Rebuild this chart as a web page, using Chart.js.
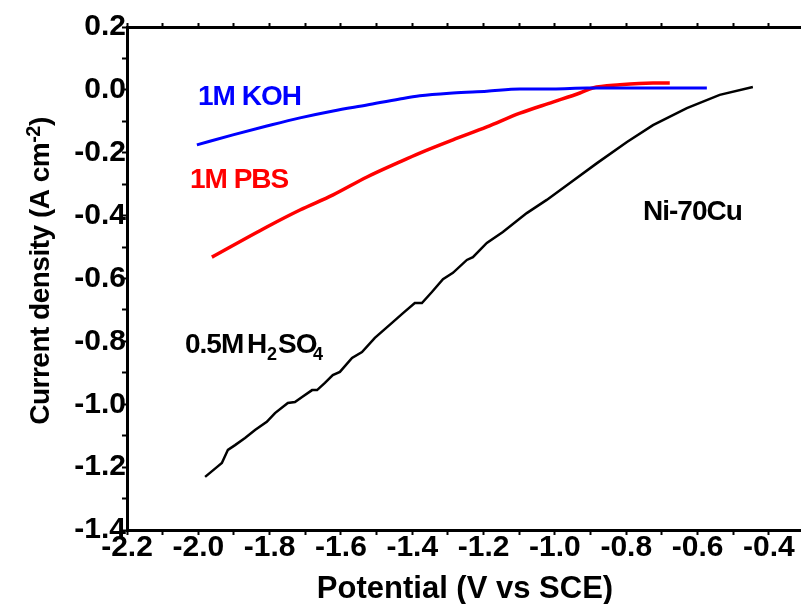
<!DOCTYPE html>
<html><head><meta charset="utf-8">
<script src="https://cdn.jsdelivr.net/npm/chart.js@4.4.1/dist/chart.umd.min.js"></script>
<style>html,body{margin:0;padding:0;background:#fff}canvas{display:block}</style>
</head><body>
<canvas id="c" width="801" height="604"></canvas>
<script>
// ---- data (Potential V vs SCE, Current density A cm^-2)
const kohPotential = [-2.004,-1.903,-1.808,-1.715,-1.622,-1.527,-1.435,-1.379,-1.286,-1.191,-1.098,-1.006,-0.910,-0.818,-0.574];
const kohCurrent   = [-0.175,-0.143,-0.115,-0.089,-0.067,-0.048,-0.029,-0.019,-0.010,-0.004,0.003,0.003,0.006,0.006,0.006];

const pbsPotential = [-1.962,-1.808,-1.715,-1.622,-1.527,-1.435,-1.379,-1.286,-1.191,-1.098,-1.006,-0.930,-0.894,-0.818,-0.725,-0.678];
const pbsCurrent   = [-0.532,-0.436,-0.382,-0.334,-0.277,-0.229,-0.201,-0.159,-0.118,-0.074,-0.039,-0.010,0.006,0.016,0.022,0.022];

const h2so4Potential = [-1.981,-1.948,-1.934,-1.917,-1.897,-1.869,-1.841,-1.808,-1.785,-1.749,-1.729,-1.709,-1.681,-1.667,-1.645,-1.623,-1.603,-1.569,-1.541,-1.505,-1.457,-1.426,-1.393,-1.373,-1.345,-1.314,-1.286,-1.247,-1.230,-1.191,-1.146,-1.079,-1.023,-0.958,-0.882,-0.798,-0.725,-0.630,-0.538,-0.445];
const h2so4Current   = [-1.231,-1.200,-1.187,-1.145,-1.130,-1.107,-1.082,-1.056,-1.028,-0.996,-0.993,-0.977,-0.955,-0.955,-0.932,-0.907,-0.897,-0.853,-0.834,-0.789,-0.741,-0.710,-0.678,-0.678,-0.643,-0.602,-0.582,-0.541,-0.532,-0.487,-0.452,-0.392,-0.350,-0.296,-0.233,-0.166,-0.112,-0.058,-0.016,0.009];

const xTickValues = [-2.2,-2.1,-2.0,-1.9,-1.8,-1.7,-1.6,-1.5,-1.4,-1.3,-1.2,-1.1,-1.0,-0.9,-0.8,-0.7,-0.6,-0.5,-0.4];
const yTickValues = [-1.4,-1.3,-1.2,-1.1,-1.0,-0.9,-0.8,-0.7,-0.6,-0.5,-0.4,-0.3,-0.2,-0.1,0.0,0.1,0.2];

const seriesNames = ['1M KOH','1M PBS','0.5M H2SO4'];
const xTitle = 'Potential (V vs SCE)';
const yTitle = 'Current density (A cm';
const sampleLabel = 'Ni-70Cu';

const pts = (xs, ys) => xs.map((x, i) => ({x, y: ys[i]}));
const FONT = "'Liberation Sans', Arial, sans-serif";

function majorLabel(v) {
  const k = Math.round(v * 10);
  return (k % 2 === 0) ? (k / 10).toFixed(1) : '';
}

const textPlugin = {
  id: 'texts',
  afterDraw(chart) {
    const ctx = chart.ctx;
    ctx.save();
    ctx.textBaseline = 'alphabetic';
    ctx.textAlign = 'left';
    ctx.letterSpacing = '-1px';
    ctx.font = `bold 28px ${FONT}`;
    ctx.fillStyle = '#0000ff';
    ctx.fillText(seriesNames[0], 198, 105);
    ctx.fillStyle = '#ff0000';
    ctx.fillText(seriesNames[1], 190, 188);
    ctx.fillStyle = '#000';
    ctx.fillText(sampleLabel, 643, 220);
    // 0.5M H2SO4 with subscripts
    ctx.fillText('0.5M', 185, 353);
    ctx.fillText('H', 247, 353);
    ctx.font = `bold 18px ${FONT}`;
    ctx.fillText('2', 267, 360);
    ctx.font = `bold 28px ${FONT}`;
    ctx.fillText('SO', 278, 353);
    ctx.font = `bold 18px ${FONT}`;
    ctx.fillText('4', 313, 360);

    // x title
    ctx.letterSpacing = '0px';
    ctx.font = `bold 31px ${FONT}`;
    ctx.textAlign = 'center';
    ctx.fillText(xTitle, 465, 598);

    // y title rotated with superscript
    ctx.textAlign = 'left';
    ctx.letterSpacing = '-0.5px';
    ctx.font = `bold 28px ${FONT}`;
    const w1 = ctx.measureText(yTitle).width;
    ctx.font = `bold 20px ${FONT}`;
    const w2 = ctx.measureText('-2').width;
    ctx.font = `bold 28px ${FONT}`;
    const w3 = ctx.measureText(')').width;
    const total = w1 + w2 + w3;
    ctx.translate(49, 271);
    ctx.rotate(-Math.PI / 2);
    let x0 = -total / 2;
    ctx.fillText(yTitle, x0, 0);
    ctx.font = `bold 20px ${FONT}`;
    ctx.fillText('-2', x0 + w1, -9);
    ctx.font = `bold 28px ${FONT}`;
    ctx.fillText(')', x0 + w1 + w2, 0);
    ctx.restore();
  }
};

const tickFont = {family: FONT, size: 30, weight: 'bold'};

new Chart(document.getElementById('c'), {
  type: 'scatter',
  data: {
    datasets: [
      {label: seriesNames[0], data: pts(kohPotential, kohCurrent), borderColor: '#0000ff', borderWidth: 3, cubicInterpolationMode: 'monotone'},
      {label: seriesNames[1], data: pts(pbsPotential, pbsCurrent), borderColor: '#ff0000', borderWidth: 3.5, cubicInterpolationMode: 'monotone'},
      {label: seriesNames[2], data: pts(h2so4Potential, h2so4Current), borderColor: '#000000', borderWidth: 2.5, tension: 0}
    ].map(d => Object.assign({showLine: true, pointRadius: 0, fill: false, tension: 0.3}, d))
  },
  options: {
    responsive: false,
    animation: false,
    devicePixelRatio: 1,
    layout: {padding: 0},
    plugins: {legend: {display: false}, tooltip: {enabled: false}},
    scales: {
      x: {
        type: 'linear', position: 'bottom', min: -2.2, max: -0.31,
        afterBuildTicks: s => { s.ticks = xTickValues.map(v => ({value: v})); },
        afterFit: s => { s.height = 74; },
        ticks: {autoSkip: false, maxRotation: 0, minRotation: 0, color: '#000', font: tickFont, padding: -5, callback: v => majorLabel(v)},
        grid: {drawOnChartArea: false, drawTicks: true, tickLength: 5, tickWidth: 2, color: '#000'},
        border: {display: true, width: 3, color: '#000'}
      },
      x2: {
        type: 'linear', position: 'top', min: -2.2, max: -0.31,
        afterBuildTicks: s => { s.ticks = xTickValues.map(v => ({value: v})); },
        afterFit: s => { s.height = 27; },
        ticks: {autoSkip: false, maxRotation: 0, minRotation: 0, font: {size: 4}, callback: () => ''},
        grid: {drawOnChartArea: false, drawTicks: true, tickLength: 4, tickWidth: 2, color: '#000'},
        border: {display: true, width: 3, color: '#000'}
      },
      y: {
        type: 'linear', position: 'left', min: -1.4, max: 0.2,
        afterBuildTicks: s => { s.ticks = yTickValues.map(v => ({value: v})); },
        afterFit: s => { s.width = 127; },
        ticks: {autoSkip: false, color: '#000', font: tickFont, padding: -4, callback: v => majorLabel(v)},
        grid: {drawOnChartArea: false, drawTicks: true, tickLength: 5, tickWidth: 2, color: '#000'},
        border: {display: true, width: 3, color: '#000'}
      }
    }
  },
  plugins: [textPlugin]
});
</script>
</body></html>
